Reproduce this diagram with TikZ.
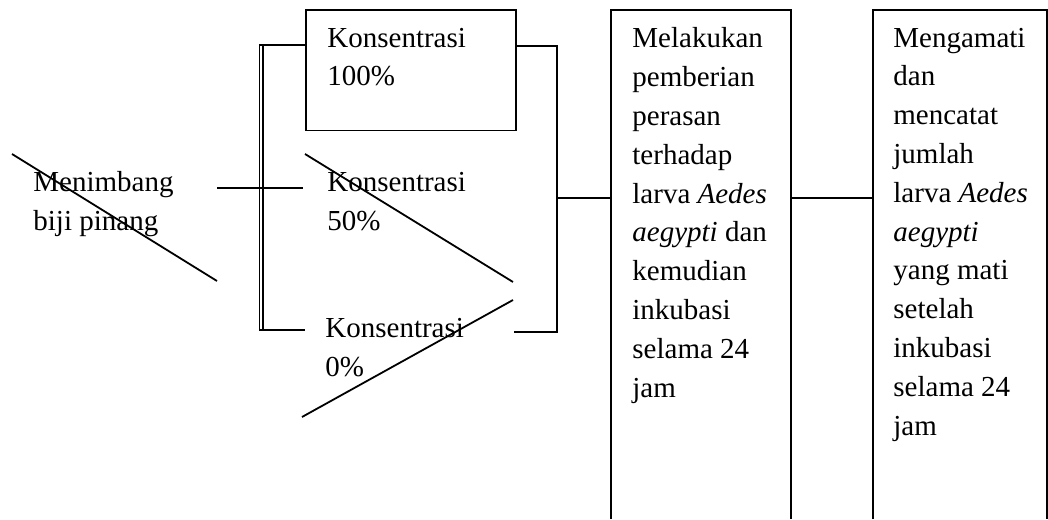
\documentclass[tikz,border=0pt]{standalone}
\usepackage{fontspec}
\setmainfont{Liberation Serif}
\usetikzlibrary{positioning}

\tikzset{
  txt/.style={draw=none, align=left, inner sep=0pt, anchor=base west,
    font=\fontsize{14.5}{19.4}\selectfont},
  frame/.style={draw, line width=0.9pt, inner sep=0pt, anchor=north west},
  wire/.style={line width=0.9pt},
  slash/.style={line width=0.9pt},
}

\begin{document}
\begin{tikzpicture}[x=0.5pt, y=-0.5pt]
\useasboundingbox (0,0) rectangle (1048,519);

% first box
\node[frame, minimum width=105pt, minimum height=60pt] (box100) at (305,9.5) {};

% tall boxes, open at the bottom
\coordinate (beriNW) at (611,10);
\coordinate (beriNE) at (791,10);
\coordinate (amatiNW) at (873,10);
\coordinate (amatiNE) at (1047,10);
\draw[wire] (beriNW |- 0,519) -- (beriNW) -- (beriNE) -- (beriNE |- 0,519);
\draw[wire] (amatiNW |- 0,519) -- (amatiNW) -- (amatiNE) -- (amatiNE |- 0,519);

% texts (placed at the baseline of their last line)
\node[txt] (menimbang) at (33,230) {Menimbang\\biji pinang};
\node[txt] (k100) at (327,86) {Konsentrasi\\100\%};
\node[txt] (k50) at (327,230.7) {Konsentrasi\\50\%};
\node[txt] (k0) at (325,376.7) {Konsentrasi\\0\%};
\node[txt] (beri) at (632,397) {Melakukan\\pemberian\\perasan\\terhadap\\larva \textit{Aedes}\\\textit{aegypti} dan\\kemudian\\inkubasi\\selama 24\\jam};
\node[txt] (amati) at (893,435) {Mengamati\\dan\\mencatat\\jumlah\\larva \textit{Aedes}\\\textit{aegypti}\\yang mati\\setelah\\inkubasi\\selama 24\\jam};

% left bracket (double line)
\coordinate (lt) at (259.5,45);
\coordinate (lb) at (259.5,330);
\coordinate (lbEnd) at (305,330);
\draw[wire] (box100.west |- lt) -- (lt) -- (lb) -- (lbEnd);
\draw[line width=0.6pt] ([xshift=1.7pt]lt) -- ([xshift=1.7pt]lb);

% weighing to 50%
\coordinate (mIn) at (217,188);
\coordinate (mOut) at (303,188);
\draw[wire] (mIn) -- (mOut);

% right bracket
\coordinate (rt) at (557,46);
\coordinate (rb) at (557,332);
\coordinate (rbEnd) at (514,332);
\draw[wire] (box100.east |- rt) -- (rt) -- (rb) -- (rbEnd);
\draw[wire] (rt |- 0,198) -- (beriNW |- 0,198);
\draw[wire] (beriNE |- 0,198) -- (amatiNW |- 0,198);

% crossing strokes
\draw[slash] (12,154) -- (217,281);
\draw[slash] (305,154) -- (513,282);
\draw[slash] (513,300) -- (302,417);

\end{tikzpicture}
\end{document}
